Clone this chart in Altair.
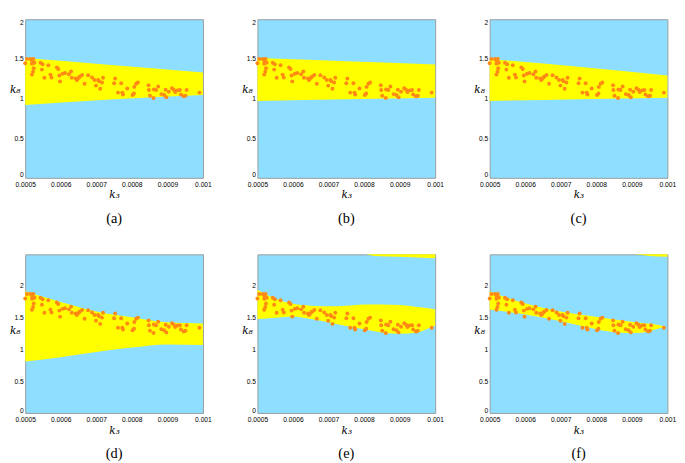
import altair as alt
import pandas as pd

# ---- scatter points (same k3 positions in every panel) ----
k3 = [0.000500, 0.000505, 0.000515, 0.000519, 0.000523, 0.000519, 0.000526, 0.000524, 0.000519, 0.000522,
      0.000543, 0.000549, 0.000547, 0.000554, 0.000565, 0.000571, 0.000574, 0.000589, 0.000593, 0.000598,
      0.000596, 0.000605, 0.000612, 0.000623, 0.000629, 0.000631, 0.000642, 0.000645, 0.000647, 0.000651,
      0.000654, 0.000660, 0.000667, 0.000677, 0.000688, 0.000695, 0.000699, 0.000705, 0.000708, 0.000711,
      0.000716, 0.000719, 0.000750, 0.000753, 0.000761, 0.000770, 0.000773, 0.000775, 0.000787, 0.000802,
      0.000806, 0.000807, 0.000812, 0.000817, 0.000847, 0.000848, 0.000851, 0.000861, 0.000862, 0.000868,
      0.000874, 0.000883, 0.000891, 0.000895, 0.000897, 0.000904, 0.000913, 0.000918, 0.000922, 0.000928,
      0.000935, 0.000938, 0.000946, 0.000951, 0.000954, 0.000990]
k8_top = [1.444, 1.500, 1.500, 1.480, 1.500, 1.440, 1.452, 1.381, 1.302, 1.337,
          1.452, 1.433, 1.365, 1.262, 1.421, 1.302, 1.266, 1.393, 1.373, 1.214,
          1.290, 1.313, 1.321, 1.306, 1.341, 1.262, 1.254, 1.234, 1.246, 1.266,
          1.278, 1.298, 1.187, 1.294, 1.266, 1.234, 1.163, 1.234, 1.218, 1.123,
          1.202, 1.262, 1.194, 1.254, 1.075, 1.194, 1.075, 1.052, 1.127, 1.044,
          1.063, 1.147, 1.187, 1.202, 1.167, 1.107, 1.036, 1.008, 1.115, 1.107,
          1.151, 1.056, 1.044, 1.111, 1.016, 1.087, 1.131, 1.111, 1.083, 1.103,
          1.107, 1.052, 1.028, 1.036, 1.107, 1.075]
k8_bot = [1.805, 1.875, 1.875, 1.850, 1.875, 1.800, 1.815, 1.726, 1.628, 1.671,
          1.815, 1.791, 1.706, 1.578, 1.776, 1.628, 1.583, 1.741, 1.716, 1.518,
          1.613, 1.641, 1.651, 1.633, 1.676, 1.578, 1.568, 1.543, 1.558, 1.583,
          1.598, 1.623, 1.484, 1.618, 1.583, 1.543, 1.454, 1.543, 1.523, 1.404,
          1.503, 1.578, 1.493, 1.568, 1.344, 1.493, 1.344, 1.315, 1.409, 1.305,
          1.329, 1.434, 1.484, 1.503, 1.459, 1.384, 1.295, 1.260, 1.394, 1.384,
          1.439, 1.320, 1.305, 1.389, 1.270, 1.359, 1.414, 1.389, 1.354, 1.379,
          1.384, 1.315, 1.285, 1.295, 1.384, 1.344]

# ---- yellow regions ----
a_x = [0.0005, 0.00075, 0.001]
a_lo = [0.92, 0.99, 1.045]
a_hi = [1.51, 1.42, 1.33]

b_x = [0.0005, 0.00075, 0.001]
b_lo = [0.97, 0.99, 1.01]
b_hi = [1.51, 1.47, 1.43]

c_x = [0.0005, 0.00075, 0.001]
c_lo = [0.97, 0.99, 1.01]
c_hi = [1.50, 1.40, 1.29]

d_x = [0.0005, 0.0006, 0.0007, 0.0008, 0.0009, 0.001]
d_lo = [0.81, 0.88, 0.96, 1.03, 1.08, 1.07]
d_hi = [1.92, 1.75, 1.60, 1.51, 1.43, 1.41]

e_x = [0.0005, 0.00055, 0.0006, 0.00065, 0.0007, 0.00075, 0.0008, 0.00085, 0.0009, 0.00095, 0.00098, 0.001]
e_lo = [1.48, 1.50, 1.52, 1.48, 1.43, 1.37, 1.32, 1.27, 1.25, 1.27, 1.33, 1.38]
e_hi = [1.94, 1.80, 1.72, 1.69, 1.68, 1.69, 1.71, 1.71, 1.70, 1.67, 1.65, 1.63]
e_cap_x = [0.000805, 0.00083, 0.0009, 0.001]
e_cap_lo = [2.5, 2.475, 2.46, 2.44]

f_x = [0.0005, 0.000592, 0.00068, 0.000769, 0.000857, 0.00091, 0.000945, 0.000963, 0.000994]
f_lo = [1.63, 1.56, 1.47, 1.36, 1.27, 1.26, 1.28, 1.31, 1.36]
f_hi = [1.915, 1.74, 1.62, 1.54, 1.47, 1.43, 1.41, 1.40, 1.36]
f_cap_x = [0.000905, 0.00095, 0.001]
f_cap_lo = [2.5, 2.475, 2.46]

x_ticks = [0.0005, 0.0006, 0.0007, 0.0008, 0.0009, 0.001]
y_ticks = [0, 0.5, 1, 1.5, 2]

BLUE = "#8EDEFF"
YELLOW = "#FFFF00"
ORANGE = "#FF8A14"
W, H = 186, 166


def panel(caption, bands, ys, ymax, title_y):
    xs = alt.Scale(domain=[0.0005, 0.001], nice=False, zero=False)
    yscale = alt.Scale(domain=[0, ymax], nice=False)
    xaxis = alt.Axis(values=x_ticks, format=".4~f", title="k₃", labelFontSize=7,
                     labelFont="Liberation Sans", labelColor="#000", ticks=False,
                     labelPadding=3, domain=False, grid=False, labelFlush=False,
                     labelOverlap=False,
                     titleFont="DejaVu Serif", titleFontStyle="italic", titleFontWeight="normal",
                     titleFontSize=11, titlePadding=2, titleColor="#000")
    yaxis = alt.Axis(values=y_ticks, format=".1~f", title="k₈", labelFontSize=7,
                     labelFont="Liberation Sans", labelColor="#000", ticks=False,
                     labelPadding=2, domain=False, grid=False, labelFlush=True,
                     titleFont="DejaVu Serif", titleFontStyle="italic", titleFontWeight="normal",
                     titleFontSize=11, titleAngle=0, titleX=-11, titleY=title_y,
                     titleAlign="center", titleBaseline="middle", titleColor="#000")
    layers = []
    for bx, blo, bhi in bands:
        df = pd.DataFrame({"x": bx, "lo": blo, "hi": bhi})
        layers.append(alt.Chart(df).mark_area(color=YELLOW, opacity=1, interpolate="monotone").encode(
            x=alt.X("x:Q", scale=xs, axis=xaxis),
            y=alt.Y("lo:Q", scale=yscale, axis=yaxis),
            y2="hi:Q"))
    pts = pd.DataFrame({"x": k3, "lo": ys})
    layers.append(alt.Chart(pts).mark_circle(color=ORANGE, size=17, opacity=1).encode(
        x=alt.X("x:Q", scale=xs, axis=xaxis),
        y=alt.Y("lo:Q", scale=yscale, axis=yaxis)))
    return alt.layer(*layers).properties(
        width=W, height=H,
        title=alt.TitleParams(text=caption, orient="bottom", font="Liberation Serif",
                              fontSize=15, fontWeight="normal", offset=12, color="#000"))


pa = panel("(a)", [(a_x, a_lo, a_hi)], k8_top, 2, 74)
pb = panel("(b)", [(b_x, b_lo, b_hi)], k8_top, 2, 74)
pc = panel("(c)", [(c_x, c_lo, c_hi)], k8_top, 2, 74)
pd_ = panel("(d)", [(d_x, d_lo, d_hi)], k8_bot, 2.5, 80)
pe = panel("(e)", [(e_x, e_lo, e_hi), (e_cap_x, e_cap_lo, [2.5] * len(e_cap_x))], k8_bot, 2.5, 80)
pf = panel("(f)", [(f_x, f_lo, f_hi), (f_cap_x, f_cap_lo, [2.5] * len(f_cap_x))], k8_bot, 2.5, 80)

row1 = alt.hconcat(pa, pb, pc, spacing=29)
row2 = alt.hconcat(pd_, pe, pf, spacing=29)

chart = alt.vconcat(row1, row2, spacing=28).properties(padding=0, background="white").configure_view(
    fill=BLUE, stroke="#9a9a9a", strokeWidth=1)

chart.save("out.html", embed_options={"renderer": "svg", "actions": False})
